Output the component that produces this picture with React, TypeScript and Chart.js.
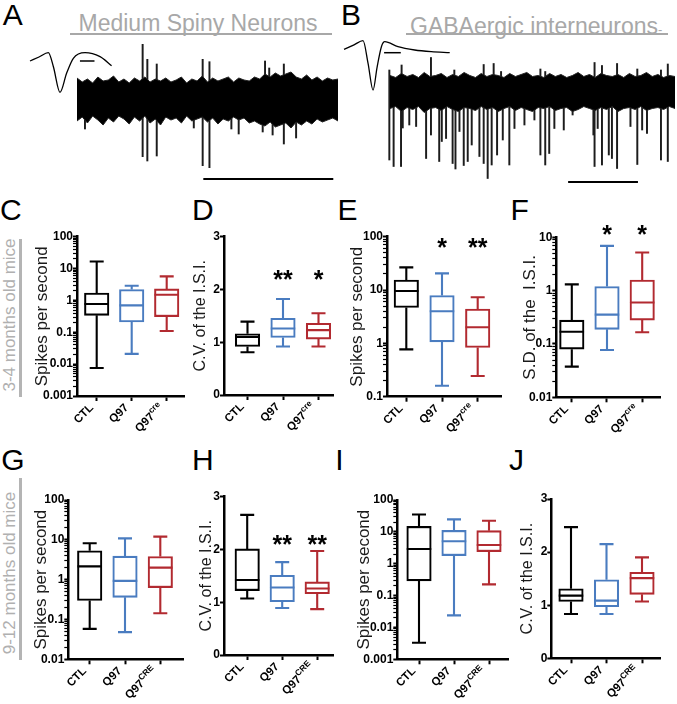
import React, { useEffect, useRef } from 'react';
import { Chart, registerables } from 'chart.js';

Chart.register(...registerables);

const FONT = "'Liberation Sans', Arial, Helvetica, sans-serif";
const GROUP_COLORS = ['#000000', '#4a7cc0', '#b22a30'];
const GRAY_TEXT = '#a8a8a8';

// ---------- categories ----------
const categories = ['CTL', 'Q97', 'Q97'];
const superscriptsYoung = ['', '', 'cre'];
const superscriptsOld = ['', '', 'CRE'];

// ---------- y tick labels ----------
const ticksSpikes5 = [0.001, 0.01, 0.1, 1, 10, 100];
const ticksSpikes3 = [0.1, 1, 10, 100];
const ticksSpikes4 = [0.01, 0.1, 1, 10, 100];
const ticksSD = [0.01, 0.1, 1, 10];
const ticksCV = [0, 1, 2, 3];

// ---------- five-number summaries [min, q1, median, q3, max] ----------
// 3-4 months, medium spiny neurons
const C_ctl = [0.0076, 0.34, 0.77, 1.7, 16.7];
const C_q97 = [0.021, 0.21, 0.7, 2.2, 2.9];
const C_cre = [0.11, 0.31, 1.5, 2.3, 5.7];
const D_ctl = [0.81, 0.92, 1.1, 1.16, 1.39];
const D_q97 = [0.92, 1.09, 1.26, 1.455, 1.82];
const D_cre = [0.92, 1.06, 1.23, 1.36, 1.55];
// 3-4 months, GABAergic interneurons
const E_ctl = [0.77, 4.7, 9.6, 15.4, 26.6];
const E_q97 = [0.16, 1.07, 4.0, 7.9, 20.5];
const E_cre = [0.244, 0.84, 2.0, 4.4, 7.3];
const F_ctl = [0.0376, 0.08, 0.17, 0.28, 1.31];
const F_q97 = [0.077, 0.188, 0.355, 1.19, 6.9];
const F_cre = [0.166, 0.28, 0.6, 1.58, 5.2];
// 9-12 months, medium spiny neurons
const G_ctl = [0.058, 0.3, 2.16, 5.3, 8.2];
const G_q97 = [0.048, 0.36, 0.93, 3.9, 10.9];
const G_cre = [0.143, 0.63, 2.0, 3.8, 12];
const H_ctl = [1.07, 1.22, 1.42, 2.01, 2.655];
const H_q97 = [0.89, 1.01, 1.28, 1.51, 1.76];
const H_cre = [0.87, 1.16, 1.26, 1.385, 1.97];
// 9-12 months, GABAergic interneurons
const I_ctl = [0.0033, 0.29, 2.9, 14.8, 35];
const I_q97 = [0.024, 1.8, 5.1, 11.1, 24.6];
const I_cre = [0.224, 2.4, 3.85, 10.9, 22.4];
const J_ctl = [0.835, 1.07, 1.18, 1.31, 2.47];
const J_q97 = [0.835, 0.97, 1.086, 1.48, 2.15];
const J_cre = [1.07, 1.205, 1.51, 1.62, 1.9];

// ---------- significance ----------
const starsD = ['', '**', '*'];
const starsE = ['', '*', '**'];
const starsF = ['', '*', '*'];
const starsH = ['', '**', '**'];

// ---------- trace A (medium spiny neuron) ----------
const traceStepA = 2;
const upperA = [23, 19, 22, 18, 24, 20, 21, 25, 19, 22, 18, 23, 20, 24, 19, 22, 20, 23, 19, 21, 24, 18, 22, 20, 25, 19, 23, 20, 22, 24, 19, 23, 21, 20, 24, 22, 27, 24, 28, 25, 27, 29, 24, 22, 26, 21, 24, 20, 23, 21, 22];
const lowerA = [-20, -16, -22, -15, -19, -24, -17, -21, -15, -18, -23, -16, -20, -15, -22, -18, -24, -16, -19, -17, -22, -15, -20, -18, -16, -21, -17, -23, -18, -20, -16, -19, -17, -22, -20, -23, -25, -21, -26, -24, -22, -27, -21, -24, -20, -23, -18, -21, -19, -17, -20];
// [time, low, high]
const spikesA = [
  [3.3, -28, 20], [25.4, -55.7, 56.7], [27.2, -60, 41.7], [30.8, -55, 37], [45, -27, 18],
  [48.4, -64.7, 41.7], [51.0, -66.7, 39.3], [59.4, -28, 20], [62.2, -33, 20], [71.4, -31, 22],
  [72.3, -20, 40], [73.9, -20, 33], [75.2, -34, 22], [79.5, -43, 37], [84.2, -37, 22],
];
const waveTA = [0, 0.6, 1.22, 1.56, 2.0, 2.44, 2.89, 3.67, 4.67, 5.44];
const waveVA = [0, 4, 8.3, -5.7, -31.3, -12.3, 2.7, 8.3, 4.3, -4.7];
const insetBarA = [[3.33, 0], [4.3, 0]];
const scaleBarA = [[48.4, -78], [98.2, -78]];

// ---------- trace B (GABAergic interneuron) ----------
const traceStepB = 2;
const upperB = [16, 14, 18, 15, 17, 14, 19, 15, 16, 18, 14, 17, 15, 19, 16, 14, 18, 15, 17, 16, 14, 18, 15, 17, 19, 15, 16, 14, 18, 15, 17, 14, 16, 19, 15, 17, 14, 18, 16, 15, 17, 14, 18, 15, 16, 19, 15, 17, 14, 16, 15];
const lowerB = [-17, -15, -20, -16, -18, -15, -21, -17, -16, -19, -15, -18, -20, -16, -17, -19, -15, -18, -16, -20, -17, -15, -19, -16, -18, -20, -16, -17, -15, -19, -17, -16, -20, -18, -15, -17, -19, -16, -18, -15, -20, -17, -16, -18, -15, -19, -17, -16, -18, -15, -17];
const spikesB = [
  [0, -68.5, 21.5], [1.5, -75, 10], [4.1, -75, 10], [4.3, -10, 26.5], [4.7, -36.5, 10],
  [7, -33.5, 10], [9.4, -35, 10], [12.9, -67, 10], [14.6, -43.5, 34], [17.5, -70, 10],
  [18.4, -50, 10], [19.9, -47, 10], [22.2, -72, 10], [22.8, -10, 21.5], [23.2, -77.5, 10],
  [24.6, -40, 10], [26.1, -74, 10], [27.5, -70, 10], [28.9, -53.5, 10], [31.6, -65, 10],
  [33.1, -72, 27], [34.5, -87, 10], [35.9, -73.5, 10], [36.6, -10, 28], [37.8, -63.5, 10],
  [39.2, -10, 20], [39.8, -48.5, 10], [42.1, -73.5, 10], [43.9, -37, 10], [47.4, -33.5, 10],
  [50.9, -28.5, 10], [53, -63.5, 22.5], [54.7, -73.5, 20], [56.1, -62, 10], [57.9, -37, 10],
  [61.2, -38.5, 10], [64.3, -23.5, 10], [71.6, -43.5, 10], [72, -75, 29], [73.1, -37, 10],
  [74.6, -73.5, 26], [77, -63.5, 10], [78.1, -67, 10], [79.9, -77, 28], [84.6, -35, 10],
  [87, -73, 22.5], [88.7, -38.5, 10], [90.4, -42, 10], [95.3, -68.5, 21.5], [97.7, -70, 27.5],
];
const waveTB = [0, 0.6, 1.14, 1.44, 1.74, 1.98, 2.24, 2.44, 3.23, 4.23, 5.23, 6.33];
const waveVB = [0, 4.5, 8.6, -14, -40.7, -18, 2.6, 7.6, 2.6, -0.7, -2.4, -3.4];
const insetBarB = [[2.4, -3.4], [3.4, -3.4]];
const scaleBarB = [[62.5, -90.5], [87, -90.5]];

// ---------- layout (styles) ----------
type BoxSpec = {
  cell: number[]; axisX: number; top: number; bottom: number; right: number;
  c0: number; sp: number; log: boolean; ticks: number[]; title: string;
  titleX: number; titleSize: number; boxes: number[][]; supers: string[];
  stars?: string[]; starsY?: number;
};

const panels: BoxSpec[] = [
  { cell: [0, 185, 190, 260], axisX: 77, top: 236.7, bottom: 396, right: 184, c0: 96.7, sp: 35, log: true, ticks: ticksSpikes5, title: 'Spikes per second', titleX: 42, titleSize: 17, boxes: [C_ctl, C_q97, C_cre], supers: superscriptsYoung },
  { cell: [190, 185, 150, 260], axisX: 224, top: 236.7, bottom: 395, right: 333, c0: 247.5, sp: 35.5, log: false, ticks: ticksCV, title: 'C.V. of the I.S.I.', titleX: 201, titleSize: 16, boxes: [D_ctl, D_q97, D_cre], supers: superscriptsYoung, stars: starsD, starsY: 273.3 },
  { cell: [340, 185, 170, 260], axisX: 387, top: 236.7, bottom: 396.7, right: 501, c0: 406.3, sp: 35.7, log: true, ticks: ticksSpikes3, title: 'Spikes per second', titleX: 357, titleSize: 17, boxes: [E_ctl, E_q97, E_cre], supers: superscriptsYoung, stars: starsE, starsY: 241.7 },
  { cell: [510, 185, 167, 260], axisX: 556.3, top: 237.3, bottom: 397.3, right: 660, c0: 571.8, sp: 35.2, log: true, ticks: ticksSD, title: 'S.D. of the  I.S.I.', titleX: 530, titleSize: 17, boxes: [F_ctl, F_q97, F_cre], supers: superscriptsYoung, stars: starsF, starsY: 228.3 },
  { cell: [0, 445, 190, 259], axisX: 68.3, top: 500, bottom: 659.3, right: 183, c0: 89.7, sp: 35.3, log: true, ticks: ticksSpikes4, title: 'Spikes per second', titleX: 41.7, titleSize: 17, boxes: [G_ctl, G_q97, G_cre], supers: superscriptsOld },
  { cell: [190, 445, 150, 259], axisX: 224, top: 496.7, bottom: 655, right: 333, c0: 247.2, sp: 35, log: false, ticks: ticksCV, title: 'C.V. of the I.S.I.', titleX: 207, titleSize: 16, boxes: [H_ctl, H_q97, H_cre], supers: superscriptsOld, stars: starsH, starsY: 538.3 },
  { cell: [340, 445, 170, 259], axisX: 397.3, top: 500, bottom: 659.3, right: 508, c0: 419, sp: 35, log: true, ticks: ticksSpikes5, title: 'Spikes per second', titleX: 364.7, titleSize: 17, boxes: [I_ctl, I_q97, I_cre], supers: superscriptsOld },
  { cell: [510, 445, 167, 259], axisX: 551.3, top: 499, bottom: 658.3, right: 660, c0: 571, sp: 35.5, log: false, ticks: ticksCV, title: 'C.V. of the I.S.I.', titleX: 528, titleSize: 16, boxes: [J_ctl, J_q97, J_cre], supers: superscriptsOld },
];

const BOX_W = 24.5;
const CAP_W = 14;
const TICK_FONT = 12;
const CAT_FONT = 11.5;
const SUP_FONT = 8.5;

function tickList(majors: number[], log: boolean) {
  const out: { value: number; major: boolean }[] = [];
  for (let i = 0; i < majors.length; i++) {
    out.push({ value: majors[i], major: true });
    if (log && i < majors.length - 1) {
      for (let k = 2; k <= 9; k++) out.push({ value: majors[i] * k, major: false });
    }
  }
  return out;
}

function BoxPanel({ spec }: { spec: BoxSpec }) {
  const ref = useRef<HTMLCanvasElement>(null);
  useEffect(() => {
    const s = spec;
    const [cl, ct, cw, ch] = s.cell;
    const xMin = (s.axisX - s.c0) / s.sp;
    const xMax = (s.right - s.c0) / s.sp;
    const yTicks = tickList(s.ticks, s.log);

    const boxPlugin = {
      id: 'boxWhiskers',
      afterDatasetsDraw(chart: any) {
        const ctx = chart.ctx;
        const xs = chart.scales.x;
        const ys = chart.scales.y;
        ctx.save();
        s.boxes.forEach((b, i) => {
          const x = xs.getPixelForValue(i);
          const [mn, q1, md, q3, mx] = b.map((v) => ys.getPixelForValue(v));
          ctx.strokeStyle = GROUP_COLORS[i];
          ctx.lineWidth = 2.1;
          ctx.lineCap = 'butt';
          ctx.beginPath();
          ctx.moveTo(x, q3); ctx.lineTo(x, mx);
          ctx.moveTo(x - CAP_W / 2, mx); ctx.lineTo(x + CAP_W / 2, mx);
          ctx.moveTo(x, q1); ctx.lineTo(x, mn);
          ctx.moveTo(x - CAP_W / 2, mn); ctx.lineTo(x + CAP_W / 2, mn);
          ctx.moveTo(x - BOX_W / 2, md); ctx.lineTo(x + BOX_W / 2, md);
          ctx.stroke();
        });
        ctx.restore();
      },
      afterDraw(chart: any) {
        const ctx = chart.ctx;
        const xs = chart.scales.x;
        ctx.save();
        ctx.fillStyle = '#000';
        const axisY = xs.top;
        categories.forEach((cat, i) => {
          const tx = xs.getPixelForValue(i);
          const sup = s.supers[i];
          ctx.save();
          ctx.translate(tx - 5, axisY + 10);
          ctx.rotate(-Math.PI / 4);
          ctx.textBaseline = 'middle';
          ctx.font = `bold ${SUP_FONT}px ${FONT}`;
          const sw = sup ? ctx.measureText(sup).width : 0;
          ctx.font = `bold ${CAT_FONT}px ${FONT}`;
          ctx.textAlign = 'right';
          ctx.fillText(cat, -sw, 0);
          if (sup) {
            ctx.font = `bold ${SUP_FONT}px ${FONT}`;
            ctx.textAlign = 'left';
            ctx.fillText(sup, -sw, -4);
          }
          ctx.restore();
        });
        if (s.stars && s.starsY !== undefined) {
          const fs = 25;
          ctx.font = `bold ${fs}px ${FONT}`;
          ctx.textAlign = 'center';
          ctx.textBaseline = 'alphabetic';
          s.stars.forEach((st, i) => {
            if (!st) return;
            const tx = xs.getPixelForValue(i);
            ctx.fillText(st, tx, s.starsY! - ct + 0.58 * fs);
          });
        }
        ctx.restore();
      },
    };

    const chart = new Chart(ref.current!, {
      type: 'bar',
      data: {
        datasets: [
          {
            data: s.boxes.map((b, i) => ({ x: i, y: [b[1], b[3]] })) as any,
            backgroundColor: '#ffffff',
            borderColor: GROUP_COLORS,
            borderWidth: 2.1,
            borderSkipped: false,
            barThickness: BOX_W,
          } as any,
        ],
      },
      options: {
        animation: false,
        responsive: false,
        devicePixelRatio: 1,
        events: [],
        layout: { padding: { left: 0, top: s.top - ct, right: cl + cw - s.right, bottom: 0 } },
        plugins: { legend: { display: false }, tooltip: { enabled: false } },
        scales: {
          x: {
            type: 'linear',
            min: xMin,
            max: xMax,
            offset: false,
            afterBuildTicks: (sc: any) => { sc.ticks = categories.map((_, i) => ({ value: i })); },
            afterFit: (sc: any) => { sc.height = ct + ch - s.bottom; sc.paddingLeft = 0; sc.paddingRight = 0; },
            ticks: { display: false },
            grid: { drawOnChartArea: false, drawTicks: true, tickLength: 5, tickWidth: 2, tickColor: '#000', offset: false },
            border: { display: true, width: 2.5, color: '#000' },
          },
          y: {
            type: s.log ? 'logarithmic' : 'linear',
            min: s.ticks[0],
            max: s.ticks[s.ticks.length - 1],
            afterBuildTicks: (sc: any) => { sc.ticks = yTicks.map((t) => ({ ...t })); },
            afterFit: (sc: any) => { sc.width = s.axisX - cl; sc.paddingTop = 0; sc.paddingBottom = 0; },
            ticks: {
              autoSkip: false,
              padding: 0,
              color: '#000',
              font: { family: FONT, size: TICK_FONT, weight: 'bold' },
              callback: (v: any) => (s.ticks.includes(v) ? String(v) : ''),
            },
            grid: {
              drawOnChartArea: false,
              drawTicks: true,
              tickLength: 4,
              tickColor: '#000',
              tickWidth: (c: any) => (c.tick && s.ticks.includes(c.tick.value) ? 2 : 1.2),
            },
            border: { display: true, width: 2.5, color: '#000' },
            title: {
              display: true,
              text: s.title,
              color: '#1a1a1a',
              font: { family: FONT, size: s.titleSize, weight: 'normal' },
              padding: { top: s.titleX - cl - s.titleSize * 0.6, bottom: 0 },
            },
          },
        },
      } as any,
      plugins: [boxPlugin],
    });
    return () => chart.destroy();
  }, [spec]);
  const [cl, ct, cw, ch] = spec.cell;
  return <canvas ref={ref} width={cw} height={ch} style={{ position: 'absolute', left: cl, top: ct, width: cw, height: ch }} />;
}

type TraceSpec = {
  cell: number[]; x: number[]; y: number[]; xi: number[]; yi: number[];
  step: number; upper: number[]; lower: number[]; spikes: number[][];
  waveT: number[]; waveV: number[]; insetBar: number[][]; scaleBar: number[][];
};

const traces: TraceSpec[] = [
  { cell: [20, 35, 320, 155], x: [-21.84, 100.77], y: [-89, 66], xi: [-0.667, 20.67], yi: [-129, 26], step: traceStepA, upper: upperA, lower: lowerA, spikes: spikesA, waveT: waveTA, waveV: waveVA, insetBar: insetBarA, scaleBar: scaleBarA },
  { cell: [340, 35, 337, 155], x: [-17.54, 100.7], y: [-98.5, 56.5], xi: [-0.24, 19.94], yi: [-140.7, 14.3], step: traceStepB, upper: upperB, lower: lowerB, spikes: spikesB, waveT: waveTB, waveV: waveVB, insetBar: insetBarB, scaleBar: scaleBarB },
];

function TracePanel({ spec }: { spec: TraceSpec }) {
  const ref = useRef<HTMLCanvasElement>(null);
  useEffect(() => {
    const s = spec;
    const line = { type: 'line', pointRadius: 0, pointHoverRadius: 0, tension: 0, borderColor: '#000', fill: false };
    const chart = new Chart(ref.current!, {
      type: 'line',
      data: {
        datasets: [
          { ...line, data: s.upper.map((v, i) => ({ x: i * s.step, y: v })), borderWidth: 1, borderColor: '#222', xAxisID: 'x', yAxisID: 'y' },
          { ...line, data: s.lower.map((v, i) => ({ x: i * s.step, y: v })), borderWidth: 1, borderColor: '#222', fill: '-1', backgroundColor: '#000', xAxisID: 'x', yAxisID: 'y' },
          { type: 'bar', data: s.spikes.map(([x, lo, hi]) => ({ x, y: [lo, hi] })), backgroundColor: '#1c1c1c', borderWidth: 0, barThickness: 1.3, xAxisID: 'x', yAxisID: 'y' },
          { ...line, data: s.waveT.map((t, i) => ({ x: t, y: s.waveV[i] })), borderWidth: 1.3, cubicInterpolationMode: 'monotone', xAxisID: 'xi', yAxisID: 'yi' },
          { ...line, data: s.insetBar.map(([x, y]) => ({ x, y })), borderWidth: 1.5, xAxisID: 'xi', yAxisID: 'yi' },
          { ...line, data: s.scaleBar.map(([x, y]) => ({ x, y })), borderWidth: 2.2, xAxisID: 'x', yAxisID: 'y' },
        ] as any,
      },
      options: {
        animation: false,
        responsive: false,
        devicePixelRatio: 1,
        events: [],
        layout: { padding: 0 },
        plugins: { legend: { display: false }, tooltip: { enabled: false } },
        scales: {
          x: { type: 'linear', display: false, min: s.x[0], max: s.x[1], offset: false },
          y: { type: 'linear', display: false, min: s.y[0], max: s.y[1] },
          xi: { type: 'linear', axis: 'x', position: 'bottom', display: false, min: s.xi[0], max: s.xi[1], offset: false },
          yi: { type: 'linear', axis: 'y', position: 'left', display: false, min: s.yi[0], max: s.yi[1] },
        },
      } as any,
    });
    return () => chart.destroy();
  }, [spec]);
  const [cl, ct, cw, ch] = spec.cell;
  return <canvas ref={ref} width={cw} height={ch} style={{ position: 'absolute', left: cl, top: ct, width: cw, height: ch }} />;
}

const letters = [
  { t: 'A', x: 2.7, y: -0.4 }, { t: 'B', x: 341, y: -0.4 },
  { t: 'C', x: 0, y: 195 }, { t: 'D', x: 192, y: 195 }, { t: 'E', x: 337.5, y: 195 }, { t: 'F', x: 510.5, y: 195 },
  { t: 'G', x: 1.2, y: 444.6 }, { t: 'H', x: 192, y: 444.6 }, { t: 'I', x: 335.2, y: 444.6 }, { t: 'J', x: 509, y: 444.6 },
];

export default function App() {
  return (
    <div style={{ position: 'absolute', left: 0, top: 0, width: 677, height: 704, background: '#fff', overflow: 'hidden', fontFamily: FONT }}>
      {letters.map((l) => (
        <div key={l.t} style={{ position: 'absolute', left: l.x, top: l.y, fontSize: 30, lineHeight: '30px', color: '#000' }}>{l.t}</div>
      ))}
      <div style={{ position: 'absolute', left: 78.5, top: 12, fontSize: 23, lineHeight: '23px', color: GRAY_TEXT, whiteSpace: 'nowrap' }}>Medium Spiny Neurons</div>
      <div style={{ position: 'absolute', left: 70, top: 33.3, width: 262, height: 1.8, background: GRAY_TEXT }} />
      <div style={{ position: 'absolute', left: 410, top: 14.5, fontSize: 23, lineHeight: '23px', color: GRAY_TEXT, whiteSpace: 'nowrap' }}>GABAergic interneurons<span style={{ fontSize: 13 }}>-</span></div>
      <div style={{ position: 'absolute', left: 406.3, top: 33.3, width: 262, height: 1.8, background: GRAY_TEXT }} />
      <div style={{ position: 'absolute', left: 9.3, top: 314.5, transform: 'translate(-50%, -50%) rotate(-90deg)', fontSize: 17, lineHeight: '17px', color: '#b0b0b0', whiteSpace: 'nowrap' }}>3-4 months old mice</div>
      <div style={{ position: 'absolute', left: 19.3, top: 239, width: 2.6, height: 158, background: '#b4b4b4' }} />
      <div style={{ position: 'absolute', left: 9.3, top: 573.3, transform: 'translate(-50%, -50%) rotate(-90deg)', fontSize: 17, lineHeight: '17px', color: '#b0b0b0', whiteSpace: 'nowrap' }}>9-12 months old mice</div>
      <div style={{ position: 'absolute', left: 19.3, top: 478, width: 2.6, height: 182, background: '#b4b4b4' }} />
      {traces.map((t, i) => <TracePanel key={'t' + i} spec={t} />)}
      {panels.map((p, i) => <BoxPanel key={'p' + i} spec={p} />)}
    </div>
  );
}
